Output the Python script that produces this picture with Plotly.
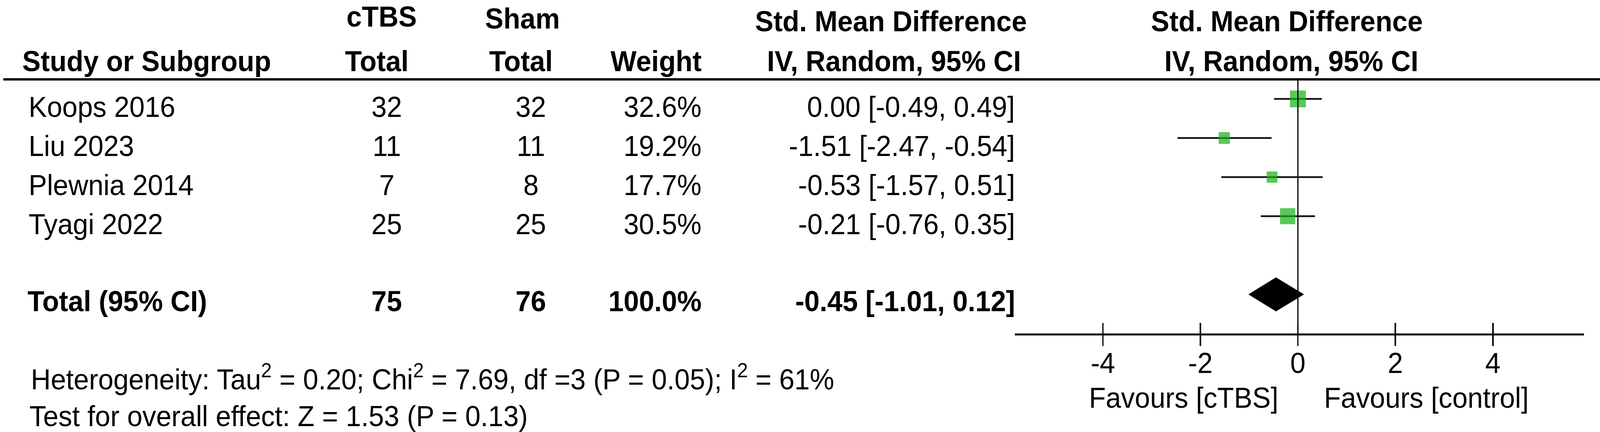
import plotly.graph_objects as go

# forest plot data
studies = ["Koops 2016", "Liu 2023", "Plewnia 2014", "Tyagi 2022"]
ctbs_total = [32, 11, 7, 25]
sham_total = [32, 11, 8, 25]
weights = [32.6, 19.2, 17.7, 30.5]
smd = [0.00, -1.51, -0.53, -0.21]
ci_low = [-0.49, -2.47, -1.57, -0.76]
ci_high = [0.49, -0.54, 0.51, 0.35]

pooled_smd = -0.45
pooled_low = -1.01
pooled_high = 0.12

tick_vals = [-4, -2, 0, 2, 4]
tick_text = ["-4", "-2", "0", "2", "4"]

heterogeneity = "Heterogeneity: Tau<sup>2</sup> = 0.20; Chi<sup>2</sup> = 7.69, df =3 (P = 0.05); I<sup>2</sup> = 61%"
overall_test = "Test for overall effect: Z = 1.53 (P = 0.13)"
favours_left = "Favours [cTBS]"
favours_right = "Favours [control]"

W, H = 4308, 1105
FONT = "Liberation Sans, Arial, sans-serif"
FS = 74
GREEN = "rgb(18,178,18)"

rows = list(range(1, len(studies) + 1))
total_row = len(studies) + 2
axis_row = total_row + 1


def px(x):
    return x / W


def py(y):
    return 1 - y / H


fig = go.Figure()

# confidence interval lines
ci_x, ci_y = [], []
for lo, hi, r in zip(ci_low, ci_high, rows):
    ci_x += [lo, hi, None]
    ci_y += [r, r, None]
fig.add_trace(go.Scatter(x=ci_x, y=ci_y, mode="lines",
                         line=dict(color="#111111", width=4.5), hoverinfo="skip"))

# line of no effect
fig.add_trace(go.Scatter(x=[0, 0], y=[0.5, axis_row], mode="lines", xaxis="x2",
                         line=dict(color="#111111", width=3.5), hoverinfo="skip"))

# study squares
fig.add_trace(go.Scatter(
    x=smd, y=rows, mode="markers",
    marker=dict(symbol="square", color=GREEN, size=[12 + 0.95 * w for w in weights],
                line=dict(width=0)),
    hoverinfo="skip"
))

# pooled diamond
h = 0.43
fig.add_trace(go.Scatter(
    x=[pooled_low, pooled_smd, pooled_high, pooled_smd, pooled_low],
    y=[total_row, total_row - h, total_row, total_row + h, total_row],
    mode="lines", fill="toself", fillcolor="black",
    line=dict(color="black", width=1), hoverinfo="skip"
))

ann = []


def txt(text, x, y, anchor="center", yref="y", bold=False):
    if bold:
        text = "<b>" + text + "</b>"
    ann.append(dict(text=text, x=px(x), xref="paper", y=y, yref=yref,
                    xanchor=anchor, yanchor="middle", showarrow=False,
                    font=dict(family=FONT, size=FS, color="black")))


# headers
txt("cTBS", 1027, -1.11, bold=True)
txt("Sham", 1407, -1.06, bold=True)
txt("Std. Mean Difference", 2399, -0.99, bold=True)
txt("Std. Mean Difference", 3465, -0.99, bold=True)
txt("Study or Subgroup", 58, 0.03, "left", bold=True)
txt("Total", 1014, 0.03, bold=True)
txt("Total", 1402, 0.03, bold=True)
txt("Weight", 1891, 0.03, "right", bold=True)
txt("IV, Random, 95% CI", 2407, 0.03, bold=True)
txt("IV, Random, 95% CI", 3477, 0.03, bold=True)

# study rows
for i, r in enumerate(rows):
    ty = r + 0.2
    txt(studies[i], 75, ty, "left")
    txt(str(ctbs_total[i]), 1041, ty)
    txt(str(sham_total[i]), 1429, ty)
    txt(f"{weights[i]:.1f}%", 1891, ty, "right")
    txt(f"{smd[i]:.2f} [{ci_low[i]:.2f}, {ci_high[i]:.2f}]", 2735, ty, "right")

# total row
ty = total_row + 0.17
txt("Total (95% CI)", 72, ty, "left", bold=True)
txt(str(sum(ctbs_total)), 1041, ty, bold=True)
txt(str(sum(sham_total)), 1429, ty, bold=True)
txt(f"{sum(weights):.1f}%", 1891, ty, "right", bold=True)
txt(f"{pooled_smd:.2f} [{pooled_low:.2f}, {pooled_high:.2f}]", 2735, ty, "right", bold=True)

# footer
txt(heterogeneity, 81, py(965), "left", yref="paper")
txt(overall_test, 77, py(1064), "left", yref="paper")
txt(favours_left, 3187, py(1018), yref="paper")
txt(favours_right, 3840, py(1018), yref="paper")

x_range = [-5.81, 5.87]
x_domain = [px(2732), px(4265)]

fig.update_layout(
    width=W, height=H,
    margin=dict(l=0, r=0, t=0, b=0),
    paper_bgcolor="white", plot_bgcolor="white",
    showlegend=False,
    font=dict(family=FONT, size=FS, color="black"),
    annotations=ann,
    xaxis=dict(domain=x_domain, range=x_range, anchor="y",
               showline=True, linewidth=5, linecolor="black",
               ticks="outside", ticklen=27, tickwidth=4, tickcolor="black",
               tickvals=tick_vals, ticktext=tick_text, ticklabelstandoff=-20,
               tickfont=dict(family=FONT, size=FS, color="black"),
               showgrid=False, zeroline=False, fixedrange=True),
    xaxis2=dict(overlaying="x", range=x_range, anchor="y", side="bottom",
                ticks="inside", ticklen=27, tickwidth=4, tickcolor="black",
                tickvals=tick_vals, showticklabels=False,
                showline=False, showgrid=False, zeroline=False),
    yaxis=dict(domain=[py(853), 1], range=[axis_row, -1.53], visible=False,
               showgrid=False, zeroline=False),
    shapes=[dict(type="line", xref="paper", x0=px(9), x1=1, yref="y", y0=0.5, y1=0.5,
                 line=dict(color="black", width=6))],
)

# the page's CSS viewport doesn't come out at exactly 4308x1105, so stretch the
# fixed-size figure onto the whole window instead of cropping it / leaving a gap
fit_js = """
document.body.style.margin = '0';
document.body.style.overflow = 'hidden';
var gd = document.getElementById('{plot_id}');
var sx = window.innerWidth / %d, sy = window.innerHeight / %d;
gd.style.transformOrigin = '0 0';
gd.style.transform = 'scale(' + sx + ',' + sy + ')';
""" % (W, H)

fig.write_html("out.html", post_script=fit_js, config={"displayModeBar": False})
